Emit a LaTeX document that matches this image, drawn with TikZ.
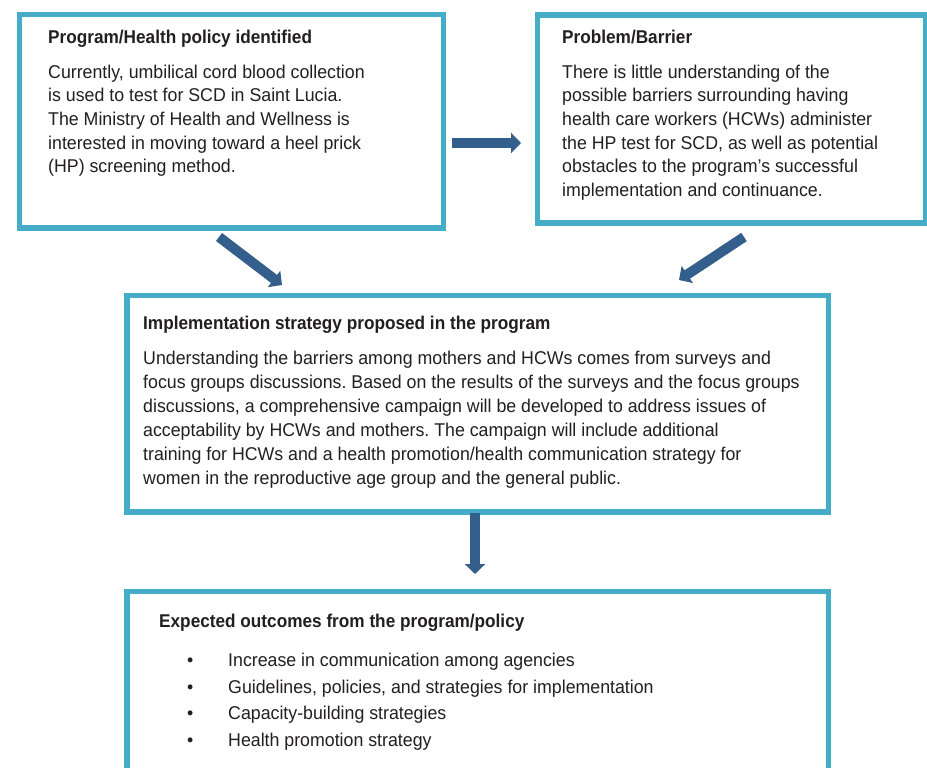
\documentclass[tikz,border=0pt]{standalone}
\usepackage{fontspec}
\setmainfont{Liberation Sans}[FakeStretch=0.96,BoldFeatures={FakeStretch=0.93}]
\usetikzlibrary{arrows.meta}
\frenchspacing

\definecolor{boxteal}{HTML}{45ADC8}
\definecolor{arrowblue}{HTML}{345E8C}
\definecolor{inkgray}{HTML}{231F20}

\tikzset{
  panel/.style={draw=boxteal, line width=5.5pt, fill=white, inner sep=0pt, anchor=north west},
  flow/.style={draw=arrowblue, line width=10pt, -{Triangle[width=20pt,length=10pt]}},
  heading/.style={anchor=base west, inner sep=0pt, text=inkgray,
    font=\bfseries\fontsize{18.5}{23.7}\selectfont},
  body/.style={anchor=base west, inner sep=0pt, align=left, text=inkgray,
    font=\fontsize{18.5}{23.7}\selectfont},
}

\begin{document}
\begin{tikzpicture}[x=1pt, y=-1pt]
    \clip (0,0) rectangle (927,768);
    \fill[white] (0,0) rectangle (927,768);

    % boxes
    \node[panel, minimum width=424, minimum height=213] (policy)   at (16.5,12)   {};
    \node[panel, minimum width=388, minimum height=207.5] (barrier) at (534.5,12.5) {};
    \node[panel, minimum width=701.5, minimum height=216.5] (strategy) at (124,292.5) {};
    \node[panel, minimum width=701.5, minimum height=240] (outcomes) at (124,588.5) {};

    % texts (body nodes sit on the baseline of their last line)
    \node[heading] (policytitle) at (48,44) {Program/Health policy identified};
    \node[body] (policytext) at (48,172.8) {Currently, umbilical cord blood collection\\
        is used to test for SCD in Saint Lucia.\\
        The Ministry of Health and Wellness is\\
        interested in moving toward a heel prick\\
        (HP) screening method.};

    \node[heading] (barriertitle) at (562,44) {Problem/Barrier};
    \node[body] (barriertext) at (562,196.5) {There is little understanding of the\\
        possible barriers surrounding having\\
        health care workers (HCWs) administer\\
        the HP test for SCD, as well as potential\\
        obstacles to the program’s successful\\
        implementation and continuance.};

    \node[heading] (strategytitle) at (143,329) {Implementation strategy proposed in the program};
    \node[body, font=\fontsize{18.5}{24}\selectfont] (strategytext) at (143,484)
        {Understanding the barriers among mothers and HCWs comes from surveys and\\
        focus groups discussions. Based on the results of the surveys and the focus groups\\
        discussions, a comprehensive campaign will be developed to address issues of\\
        acceptability by HCWs and mothers. The campaign will include additional\\
        training for HCWs and a health promotion/health communication strategy for\\
        women in the reproductive age group and the general public.};

    \node[heading] (outcomestitle) at (159,627) {Expected outcomes from the program/policy};
    \foreach \txt [count=\i] in {Increase in communication among agencies,
        {Guidelines, policies, and strategies for implementation},
        Capacity-building strategies,
        Health promotion strategy}
    {
        \node[body] (dot\i)  at (187,640+26.5*\i) {\textbullet};
        \node[body] (item\i) at (228,640+26.5*\i) {\txt};
    }

    % arrows
    \coordinate (h1) at (452,143);   \coordinate (h2) at (521,143);
    \coordinate (d1) at (219,237);   \coordinate (d2) at (282,285);
    \coordinate (e1) at (744,237);   \coordinate (e2) at (679,280);
    \coordinate (v1) at (475,513);   \coordinate (v2) at (475,574);
    \draw[flow] (h1) -- (h2);
    \draw[flow] (d1) -- (d2);
    \draw[flow] (e1) -- (e2);
    \draw[flow] (v1) -- (v2);
\end{tikzpicture}
\end{document}
